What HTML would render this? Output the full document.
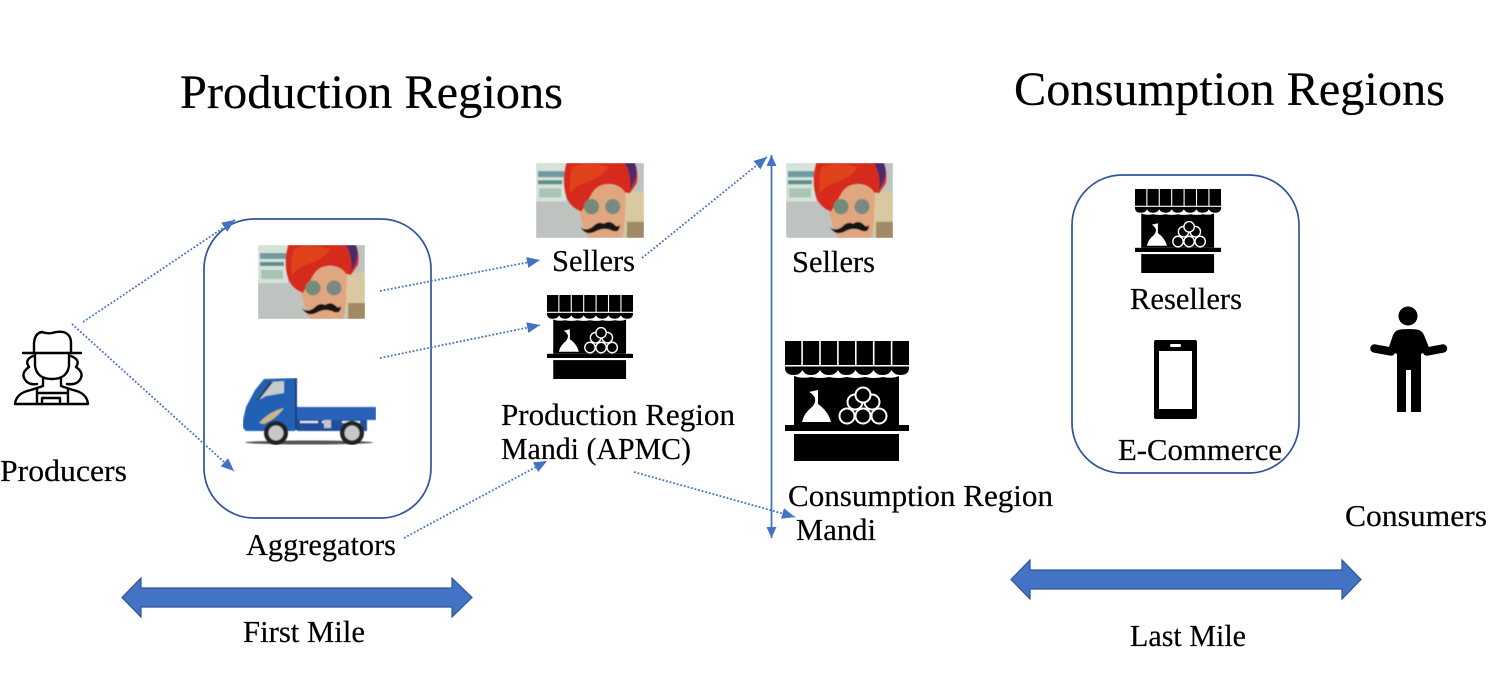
<!DOCTYPE html>
<html><head><meta charset="utf-8"><style>
html,body{margin:0;padding:0;background:#fff;width:1489px;height:675px;overflow:hidden}
svg{display:block}
text{font-family:"Liberation Serif",serif;fill:#000;font-size:31px;stroke:#000;stroke-width:.2}
.t{font-size:48px}
.d{stroke:#4472c4;stroke-width:1.8;stroke-dasharray:1.8 1.9;fill:none}
</style></head><body>
<svg width="1489" height="675" viewBox="0 0 1489 675" xmlns="http://www.w3.org/2000/svg">
<defs>
<filter id="soft" x="0" y="0" width="1" height="1"><feGaussianBlur stdDeviation="0.4"/></filter>
<marker id="ah" markerUnits="userSpaceOnUse" markerWidth="15" markerHeight="12" refX="13" refY="5.500" orient="auto"><path d="M0 0L13 5.500L0 11Z" fill="#4472c4"/></marker>
<marker id="ahs" markerUnits="userSpaceOnUse" markerWidth="14" markerHeight="12" refX="11" refY="5" orient="auto-start-reverse"><path d="M0 0L11 5L0 10Z" fill="#4472c4"/></marker>
<symbol id="stall" viewBox="0 0 124 120" preserveAspectRatio="none">
<g fill="#000">
<path d="M0 0H16.300V24H0ZM17.900 0H34.200V24H17.900ZM35.800 0H52.100V24H35.800ZM53.700 0H70V24H53.700ZM71.600 0H87.900V24H71.600ZM89.500 0H105.800V24H89.500ZM107.400 0H124V24H107.400Z"/>
<path d="M0 25.500H124V28Q123 34 115.500 34Q109 34 106.500 29Q104 34 97.500 34Q91 34 88.500 29Q86 34 79.500 34Q73 34 70.500 29Q68 34 61.500 34Q55 34 53 29Q50.500 34 44 34Q37.500 34 35 29Q32.500 34 26 34Q19.500 34 17.500 29Q15 34 8.500 34Q1 34 0 28Z"/>
<path d="M9 35Q17 38 26 36Q35 38 44 36Q53 38 62 36Q71 38 80 36Q89 38 98 36Q107 38 114 35V84H9Z"/>
<rect x="0" y="84" width="124" height="6"/><rect x="9" y="93" width="105" height="27"/>
</g>
<path d="M17 81Q19 72 27 66Q31 62 30 57Q27 52 24 51L33 49V63Q43 70 46 81Z" fill="#fff"/>
<g fill="#000" stroke="#fff" stroke-width="2">
<circle cx="70" cy="61" r="7.500"/><circle cx="87" cy="61" r="7.500"/>
<circle cx="78" cy="54" r="7.500"/>
<circle cx="62" cy="75" r="7.500"/><circle cx="78" cy="75" r="7.500"/><circle cx="94" cy="75" r="7.500"/>
</g>
</symbol>
<symbol id="farmer" viewBox="0 0 107 74" preserveAspectRatio="none">
<g filter="url(#soft)">
<rect width="107" height="74" fill="#bfc3bf"/>
<rect x="0" y="0" width="30" height="38" fill="#d5e2da"/>
<rect x="2" y="8" width="26" height="6" fill="#6f9aa0"/><rect x="2" y="17" width="24" height="4" fill="#5c8f8a"/><rect x="3" y="25" width="22" height="9" fill="#a9c4b4"/>
<rect x="88" y="28" width="19" height="46" fill="#d9c9a0"/><rect x="90" y="58" width="17" height="16" fill="#a08a66"/>
<path d="M42 38L60 20L89 24L88 58Q86 70 85 74H52Q44 60 42 38Z" fill="#e0a67f"/>
<path d="M30 0H98Q102 10 100 20L93 30L88 29Q84 22 74 21Q62 20 56 29L45 48Q34 44 30 34Q25 18 30 0Z" fill="#d62a1a"/>
<path d="M36 4Q52 -2 72 4Q66 14 48 20Q40 22 34 30Q32 16 36 4Z" fill="#e0431c"/>
<path d="M88 0H98Q103 12 93 26Q95 12 88 0Z" fill="#4a2a6a"/>
<circle cx="55" cy="43" r="7.500" fill="#718c78"/><circle cx="76" cy="43" r="7.500" fill="#7a8a82"/>
<path d="M44 63Q49 68 56 63Q62 57 67 60Q73 56 78 61Q80 64 83 61Q83 69 76 67Q68 63 60 67Q49 73 44 63Z" fill="#141212"/>
</g>
</symbol>
</defs>

<text class="t" x="180" y="108" textLength="383" lengthAdjust="spacingAndGlyphs">Production Regions</text>
<text class="t" x="1014" y="105" textLength="431" lengthAdjust="spacingAndGlyphs">Consumption Regions</text>

<rect x="204" y="219" width="227" height="299" rx="50" fill="none" stroke="#2f5597" stroke-width="1.700"/>
<rect x="1072" y="175" width="227" height="298" rx="50" fill="none" stroke="#2f5597" stroke-width="1.700"/>

<!-- producer -->
<g fill="none" stroke="#000" stroke-width="2.400" stroke-linejoin="round" stroke-linecap="round">
<path d="M34 353V343Q35 333 42 332Q47 334 52 333Q58 331 63 332Q71 334 71 343V353"/>
<path d="M23 353H81"/>
<path d="M35 353V366Q37 379 52 379Q67 379 69 366V353"/>
<path d="M33 356Q24 360 29 367Q19 374 27 382Q31 385 37 384M71 356Q81 360 76 367Q86 374 78 382Q74 385 67 384"/>
<path d="M43 379V386L31 390Q16 393 15 404H88Q87 393 73 390L61 386V379"/>
<path d="M37 389V404M68 389V404M37 393H68M42 404V398H60V404"/>
</g>

<use href="#farmer" x="258" y="245" width="107" height="74"/>
<use href="#farmer" x="536" y="163" width="108" height="75"/>
<use href="#farmer" x="786" y="163" width="107" height="75"/>

<!-- truck -->
<g filter="url(#soft)">
<ellipse cx="309" cy="442.500" rx="64" ry="2" fill="#555"/>
<path d="M243 428V420L246 407L255 390L264 379L295 378V431H246Z" fill="#2460b4"/>
<path d="M255 402L269 382L284 381V393L266 396Z" fill="#c4ccd0"/>
<path d="M255 402L269 382L273 382L259 400Z" fill="#2b3f66"/>
<rect x="295" y="378" width="2" height="52" fill="#1b3f7c"/>
<rect x="297" y="407" width="79" height="13" fill="#2a62b8"/>
<rect x="297" y="420" width="70" height="11" fill="#204f9a"/>
<path d="M300 421H318V423H300ZM322 421H330V423H322ZM342 421H360V423H342Z" fill="#e4e8ec"/>
<rect x="324" y="420" width="7" height="8" fill="#bfc6cc"/>
<path d="M259 423Q270 411 284 408Q276 419 264 424Z" fill="#c7b884"/>
<circle cx="276" cy="433" r="12" fill="#222"/><circle cx="276" cy="433" r="7.500" fill="#c4c8ca"/>
<circle cx="352" cy="433" r="12" fill="#222"/><circle cx="352" cy="433" r="7.500" fill="#c4c8ca"/>
</g>

<use href="#stall" x="547" y="295" width="86" height="84"/>
<use href="#stall" x="785" y="341" width="124" height="120"/>
<use href="#stall" x="1135" y="189" width="86" height="84"/>

<!-- phone -->
<rect x="1154" y="340" width="43" height="79" rx="2" fill="#000"/>
<rect x="1159" y="351" width="33" height="58" fill="#fff"/>
<rect x="1170" y="344" width="11" height="3" rx="1.500" fill="#fff"/>

<!-- consumer -->
<g fill="#000">
<circle cx="1408" cy="316" r="9.500"/>
<path d="M1398 330Q1401 329 1409 329Q1416 329 1419 330Q1422 331 1424 335L1430 350L1421 354V412H1411V370H1406V412H1397V354L1388 350L1393 335Q1395 331 1398 330Z"/>
</g>
<g fill="none" stroke="#000" stroke-width="8.500" stroke-linecap="round">
<path d="M1374.500 348.500L1391 351.500M1443 348.500L1427 351.500"/>
</g>

<!-- connectors -->
<path class="d" d="M83 322L235 220" marker-end="url(#ah)"/>
<path class="d" d="M72 324L234 471" marker-end="url(#ah)"/>
<path class="d" d="M380 291L540 260" marker-end="url(#ah)"/>
<path class="d" d="M380 358L540 325" marker-end="url(#ah)"/>
<path class="d" d="M404 538L547 461" marker-end="url(#ah)"/>
<path class="d" d="M642 258L767 157" marker-end="url(#ah)"/>
<path class="d" d="M634 472L795 517" marker-end="url(#ah)"/>
<path d="M771.500 155V538" stroke="#4472c4" stroke-width="1.800" fill="none" marker-start="url(#ahs)" marker-end="url(#ahs)"/>

<!-- block arrows -->
<path d="M122 597.500L141 578V588H452V578L472 597.500L452 617V607H141V617Z" fill="#4472c4" stroke="#2f5597" stroke-width="1.200"/>
<path d="M1011 579.500L1030 560V570H1342V560L1361 579.500L1342 599V589H1030V599Z" fill="#4472c4" stroke="#2f5597" stroke-width="1.200"/>

<!-- labels -->
<text x="0" y="481" textLength="127" lengthAdjust="spacingAndGlyphs">Producers</text>
<text x="246" y="555" textLength="150" lengthAdjust="spacingAndGlyphs">Aggregators</text>
<text x="243" y="642" textLength="122" lengthAdjust="spacingAndGlyphs">First Mile</text>
<text x="552" y="271" textLength="83" lengthAdjust="spacingAndGlyphs">Sellers</text>
<text x="501" y="425" textLength="234" lengthAdjust="spacingAndGlyphs">Production Region</text>
<text x="501" y="459" textLength="190" lengthAdjust="spacingAndGlyphs">Mandi (APMC)</text>
<text x="792" y="272" textLength="83" lengthAdjust="spacingAndGlyphs">Sellers</text>
<text x="788" y="506" textLength="265" lengthAdjust="spacingAndGlyphs">Consumption Region</text>
<text x="796" y="540" textLength="80" lengthAdjust="spacingAndGlyphs">Mandi</text>
<text x="1130" y="309" textLength="112" lengthAdjust="spacingAndGlyphs">Resellers</text>
<text x="1118" y="460" textLength="164" lengthAdjust="spacingAndGlyphs">E-Commerce</text>
<text x="1345" y="526" textLength="142" lengthAdjust="spacingAndGlyphs">Consumers</text>
<text x="1130" y="646" textLength="116" lengthAdjust="spacingAndGlyphs">Last Mile</text>
</svg>
</body></html>
